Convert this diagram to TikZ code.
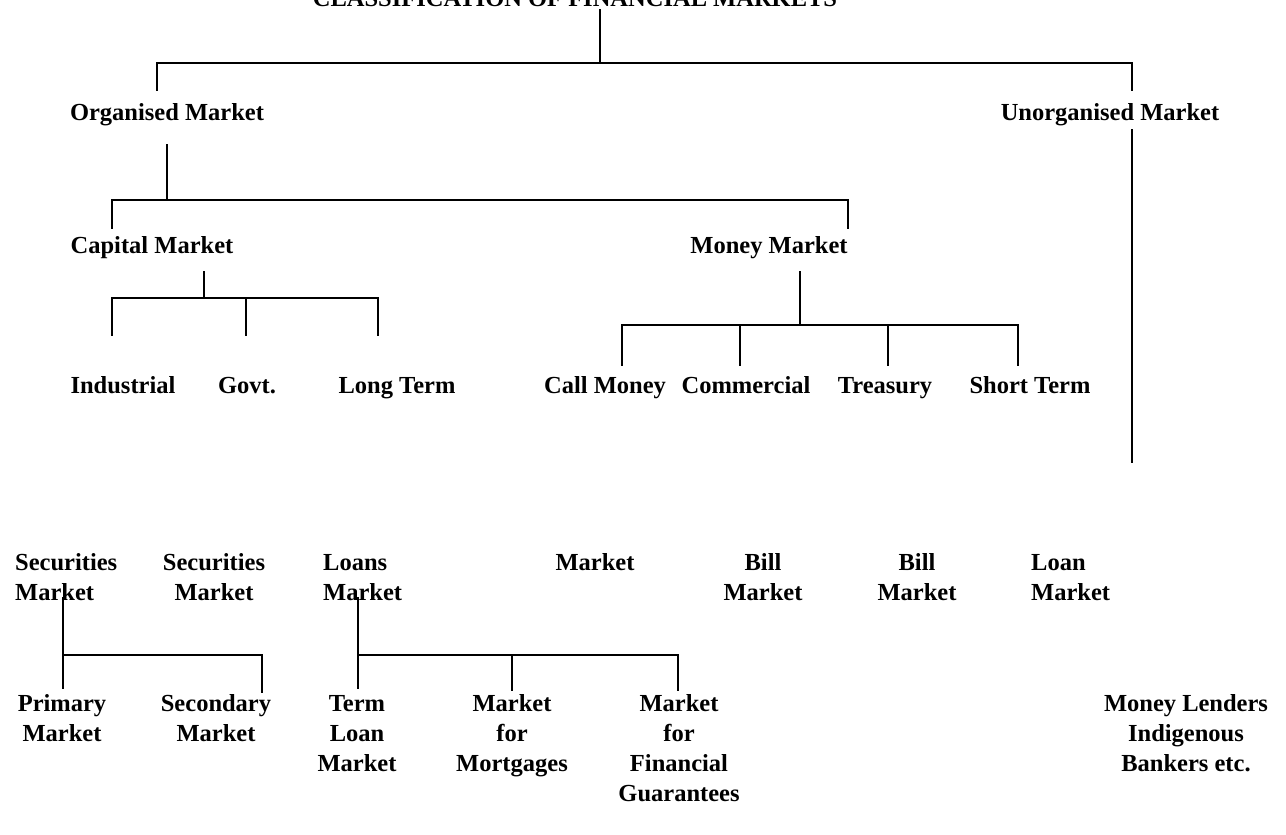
\documentclass[tikz,border=0pt]{standalone}
\usepackage{fontspec}
\setmainfont{Liberation Serif}
\begin{document}
\begin{tikzpicture}[x=1pt,y=-1pt,
  lbl/.style={font=\fontsize{24.5}{30}\selectfont\bfseries, inner sep=0pt, anchor=base},
  ml/.style={font=\fontsize{24.5}{30}\selectfont\bfseries, inner sep=0pt, anchor=north, align=center},
  mll/.style={ml, anchor=north west, align=left},
  link/.style={line width=2.2pt, line cap=rect}]
\clip (0,0) rectangle (1286,835);
\fill[white] (0,0) rectangle (1286,835);
% title
\node[lbl] (title) at (575,6) {CLASSIFICATION OF FINANCIAL MARKETS};
% level 1
\node[lbl] (org) at (167,120) {Organised Market};
\node[lbl] (unorg) at (1110,120) {Unorganised Market};
% level 2
\node[lbl] (cap) at (152,253) {Capital Market};
\node[lbl] (money) at (769,253) {Money Market};
% level 3
\node[lbl] (ind) at (123,393) {Industrial};
\node[lbl] (gov) at (247,393) {Govt.};
\node[lbl] (lt) at (397,393) {Long Term};
\node[lbl] (call) at (605,393) {Call Money};
\node[lbl] (com) at (746,393) {Commercial};
\node[lbl] (tre) at (885,393) {Treasury};
\node[lbl] (st) at (1030,393) {Short Term};
% continuation row
\node[mll] (sec1) at (15,553) {Securities\\Market};
\node[ml] (sec2) at (214,553) {Securities\\Market};
\node[mll] (loans) at (323,554) {Loans\\Market};
\node[lbl] (callm) at (595,570) {Market};
\node[ml] (bill1) at (763,553) {Bill\\Market};
\node[ml] (bill2) at (917,553) {Bill\\Market};
\node[mll] (loan) at (1031,554) {Loan\\Market};
% bottom row
\node[ml] (prim) at (62,694) {Primary\\Market};
\node[ml] (secd) at (216,694) {Secondary\\Market};
\node[ml] (term) at (357,695) {Term\\Loan\\Market};
\node[ml] (mort) at (512,694) {Market\\for\\Mortgages};
\node[ml] (fin) at (679,694) {Market\\for\\Financial\\Guarantees};
\node[ml] (lend) at (1186,694) {Money Lenders\\Indigenous\\Bankers etc.};
% connector coordinates
\coordinate (title-b) at (600,10);
\coordinate (bus0) at (600,63);
\coordinate (org-t) at (157,90);
\coordinate (unorg-t) at (1132,90);
\coordinate (org-b) at (167,145);
\coordinate (bus1) at (167,200);
\coordinate (cap-t) at (112,228);
\coordinate (money-t) at (848,228);
\coordinate (cap-b) at (204,272);
\coordinate (bus2) at (204,298);
\coordinate (ind-t) at (112,335);
\coordinate (gov-t) at (246,335);
\coordinate (lt-t) at (378,335);
\coordinate (money-b) at (800,272);
\coordinate (bus3) at (800,325);
\coordinate (call-t) at (622,365);
\coordinate (com-t) at (740,365);
\coordinate (tre-t) at (888,365);
\coordinate (st-t) at (1018,365);
\coordinate (unorg-b) at (1132,130);
\coordinate (unorg-e) at (1132,462);
\coordinate (sec1-b) at (63,598);
\coordinate (prim-t) at (63,688);
\coordinate (bus4) at (63,655);
\coordinate (secd-t) at (262,692);
\coordinate (loans-b) at (358,598);
\coordinate (term-t) at (358,688);
\coordinate (bus5) at (358,655);
\coordinate (mort-t) at (512,690);
\coordinate (fin-t) at (678,690);
% connectors
\draw[link] (title-b) -- (bus0);
\draw[link] (org-t) |- (bus0) -| (unorg-t);
\draw[link] (org-b) -- (bus1);
\draw[link] (cap-t) |- (bus1) -| (money-t);
\draw[link] (cap-b) -- (bus2);
\draw[link] (ind-t) |- (bus2) -| (lt-t);
\draw[link] (gov-t) -- (gov-t |- bus2);
\draw[link] (money-b) -- (bus3);
\draw[link] (call-t) |- (bus3) -| (st-t);
\draw[link] (com-t) -- (com-t |- bus3);
\draw[link] (tre-t) -- (tre-t |- bus3);
\draw[link] (unorg-b) -- (unorg-e);
\draw[link] (sec1-b) -- (prim-t);
\draw[link] (bus4) -| (secd-t);
\draw[link] (loans-b) -- (term-t);
\draw[link] (bus5) -| (fin-t);
\draw[link] (mort-t) -- (mort-t |- bus5);
\end{tikzpicture}
\end{document}
